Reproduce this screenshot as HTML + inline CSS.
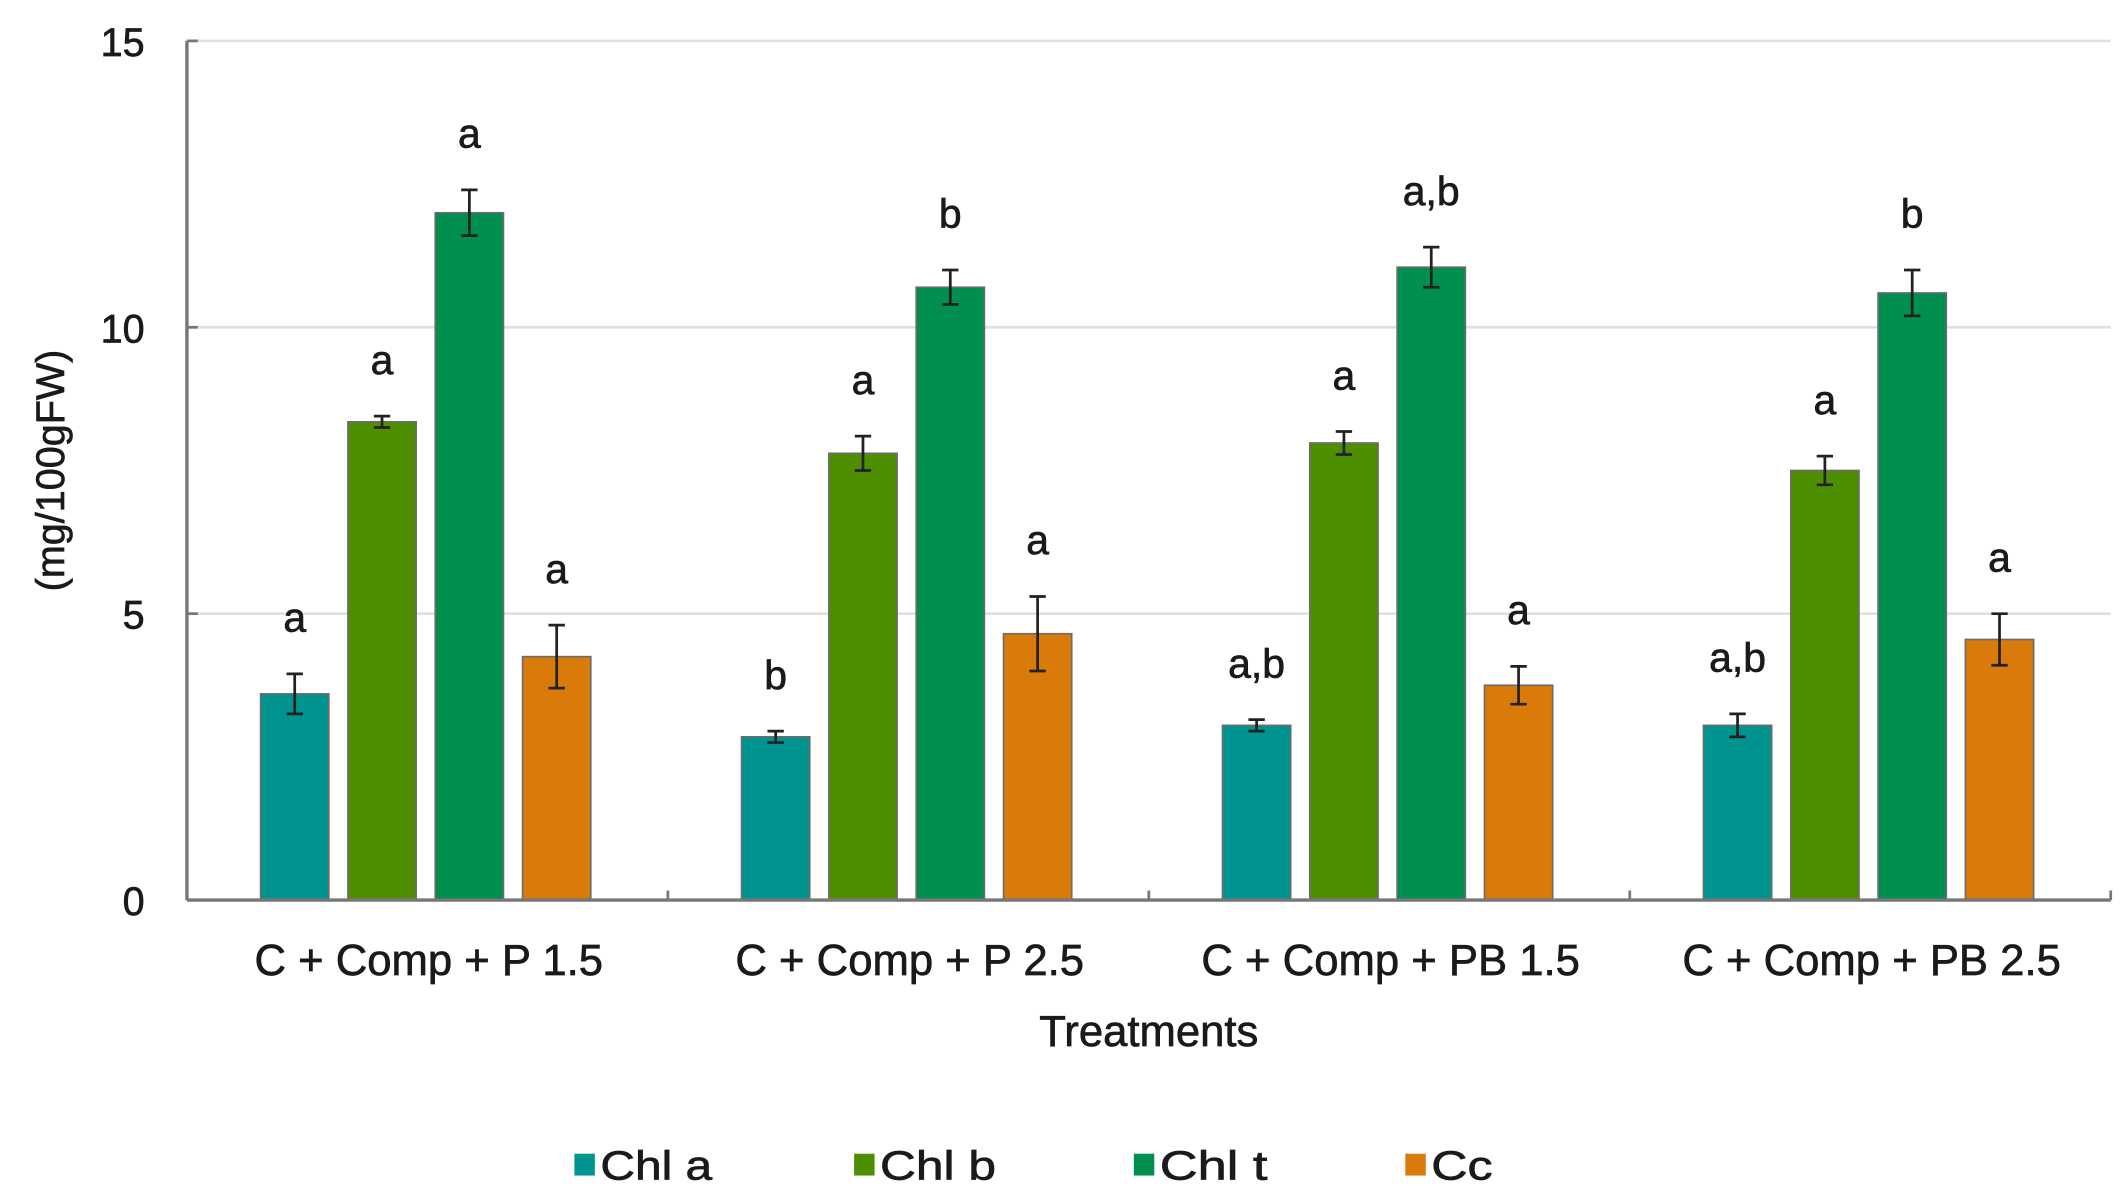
<!DOCTYPE html>
<html><head><meta charset="utf-8"><style>
html,body{margin:0;padding:0;background:#fff;}
svg{display:block;}
text{font-family:"Liberation Sans",Arial,sans-serif;fill:#1a1a1a;stroke:#1a1a1a;stroke-width:0.5;}
</style></head><body>
<svg id="chart" width="2123" height="1196" viewBox="0 0 1556 877" preserveAspectRatio="none" xmlns="http://www.w3.org/2000/svg">
<g id="grid"></g>
<g id="bars"></g>
<g id="axes"></g>
<text transform="translate(47,345) rotate(-90)" text-anchor="middle" font-size="29">(mg/100gFW)</text>
<text x="842" y="767" text-anchor="middle" font-size="32">Treatments</text>
<g id="legend"></g>
</svg>
<script>
const categories = ["C + Comp + P 1.5","C + Comp + P 2.5","C + Comp + PB 1.5","C + Comp + PB 2.5"];
const seriesNames = ["Chl a","Chl b","Chl t","Cc"];
const chlA = [3.6, 2.85, 3.05, 3.05];
const chlB = [8.35, 7.8, 7.98, 7.5];
const chlT = [12.0, 10.7, 11.05, 10.6];
const cc = [4.25, 4.65, 3.75, 4.55];
const errA = [0.35, 0.1, 0.1, 0.2];
const errB = [0.1, 0.3, 0.2, 0.25];
const errT = [0.4, 0.3, 0.35, 0.4];
const errC = [0.55, 0.65, 0.33, 0.45];
const lettersA = ["a","b","a,b","a,b"];
const lettersB = ["a","a","a","a"];
const lettersT = ["a","b","a,b","b"];
const lettersC = ["a","a","a","a"];
const yTicks = [0,5,10,15];

const colors = ["#009490","#4e8f00","#008f4f","#d97a0a"];
const values = [chlA, chlB, chlT, cc];
const errs = [errA, errB, errT, errC];
const letters = [lettersA, lettersB, lettersT, lettersC];
const NS = "http://www.w3.org/2000/svg";
const X0 = 137, X1 = 1547, Y0 = 660, Y1 = 30;
const groupW = (X1 - X0) / categories.length;
const y = v => Y0 - (v / 15) * (Y0 - Y1);
const barX = (g, s) => X0 + g * groupW + 54 + s * 64;
const BW = 50;
function mk(tag, attrs, parent){ const e=document.createElementNS(NS,tag); for(const k in attrs) e.setAttribute(k,attrs[k]); parent.appendChild(e); return e; }
const grid = document.getElementById('grid'), bars=document.getElementById('bars'), axes=document.getElementById('axes'), legend=document.getElementById('legend');

yTicks.forEach(t => {
  if (t > 0) {
    const l = mk('line',{x1:X0,x2:X1,y1:y(t),y2:y(t),stroke:'#e0e0e0','stroke-width':2},grid);
    
    
  }
  const tl = mk('line',{x1:X0,x2:X0+8,y1:y(t),y2:y(t),stroke:'#777','stroke-width':2},axes);
  
  
  const tx = mk('text',{x:106,y:y(t)+11,'text-anchor':'end','font-size':29},axes);
  tx.textContent = t;
  
  
});
const ya = mk('line',{x1:X0,x2:X0,y1:Y1,y2:Y0,stroke:'#777','stroke-width':2.5},axes);


const xa = mk('line',{x1:X0,x2:X1,y1:Y0,y2:Y0,stroke:'#777','stroke-width':2.5},axes);


for (let g=0; g<=categories.length; g++){
  const xt = X0 + g*groupW;
  const t = mk('line',{x1:xt,x2:xt,y1:Y0,y2:Y0-7,stroke:'#777','stroke-width':2},axes);
  
  
}
categories.forEach((c,g) => {
  const tx = mk('text',{x:X0+g*groupW+groupW/2+1,y:715,'text-anchor':'middle','font-size':32},axes);
  tx.textContent = c;
  
  
  values.forEach((arr,s) => {
    const v = arr[g], e = errs[s][g], bx = barX(g,s);
    const r = mk('rect',{x:bx,y:y(v),width:BW,height:Y0-y(v),fill:colors[s],stroke:'#6b6b6b','stroke-width':1.2},bars);
    
    
    const cx = bx + BW/2;
    const eb = mk('path',{d:`M${cx},${y(v+e)}V${y(v-e)}M${cx-6},${y(v+e)}H${cx+6}M${cx-6},${y(v-e)}H${cx+6}`,stroke:'#222','stroke-width':2,fill:'none'},bars);
    
    
    const lt = mk('text',{x:cx,y:y(v+e)-31,'text-anchor':'middle','font-size':30},bars);
    lt.textContent = letters[s][g];
    
    
  });
});
const lx = [421, 626, 831, 1030];
const lw = [82, 85, 79, 45];
seriesNames.forEach((n,i) => {
  const sw = mk('rect',{x:lx[i],y:846,width:15,height:16,fill:colors[i]},legend);
  
  
  const t = mk('text',{x:lx[i]+19,y:865,'font-size':30,textLength:lw[i],lengthAdjust:'spacingAndGlyphs'},legend);
  t.textContent = n;
  
  
});
</script>
</body></html>
